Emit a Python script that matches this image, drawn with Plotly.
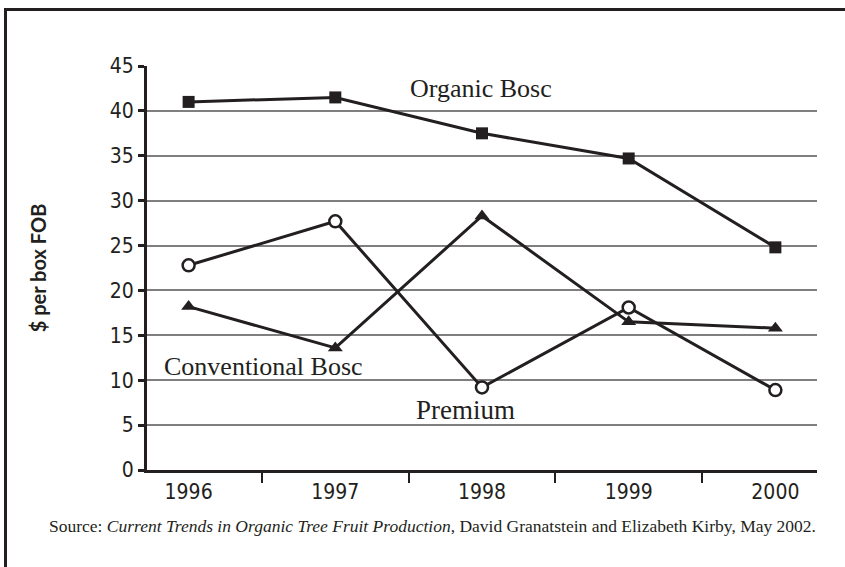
import plotly.graph_objects as go

years = ["1996", "1997", "1998", "1999", "2000"]
organic_bosc = [41.0, 41.5, 37.5, 34.7, 24.8]
conventional_bosc = [18.2, 13.6, 28.3, 16.5, 15.8]
premium = [22.8, 27.7, 9.2, 18.1, 8.9]
y_ticks = [0, 5, 10, 15, 20, 25, 30, 35, 40, 45]

INK = "#231f20"
L, R, T, B = 147, 28, 66, 97
W, H = 845, 567
pw, ph = W - L - R, H - T - B

def px_to_paper_x(x):
    return (x - L) / pw

def px_to_paper_y(y):
    return (H - B - y) / ph

fig = go.Figure()
fig.add_trace(go.Scatter(x=years, y=organic_bosc, mode="lines+markers",
                         line=dict(color=INK, width=3),
                         marker=dict(symbol="square", size=12, color=INK),
                         showlegend=False))
fig.add_trace(go.Scatter(x=years, y=conventional_bosc, mode="lines+markers",
                         line=dict(color=INK, width=3),
                         marker=dict(symbol="triangle-up", size=13, color=INK),
                         showlegend=False))
fig.add_trace(go.Scatter(x=years, y=premium, mode="lines+markers",
                         line=dict(color=INK, width=3),
                         marker=dict(symbol="circle", size=12, color="white",
                                     line=dict(color=INK, width=2.5)),
                         showlegend=False))

serif = "Liberation Serif"
def label(text, x, y, size):
    fig.add_annotation(x=px_to_paper_x(x), y=px_to_paper_y(y), xref="paper", yref="paper",
                       xanchor="center", yanchor="middle",
                       text=text, showarrow=False,
                       font=dict(family=serif, size=size, color=INK))

label("Organic Bosc", 481, 88, 26)
label("Conventional Bosc", 263, 366, 26)
label("Premium", 465, 410, 27)
label("Source: <i>Current Trends in Organic Tree Fruit Production</i>, David Granatstein and Elizabeth Kirby, May 2002.",
      432, 526, 17.5)

# outer frame
fig.add_shape(type="rect", xref="paper", yref="paper",
              x0=px_to_paper_x(5.5), x1=px_to_paper_x(900),
              y0=px_to_paper_y(700), y1=px_to_paper_y(9.5),
              line=dict(color=INK, width=3), fillcolor="rgba(0,0,0,0)", layer="above")

tick_font = dict(size=21, family="Liberation Sans Narrow, DejaVu Sans Condensed, Lato", color=INK)

fig.update_layout(
    width=W, height=H,
    margin=dict(l=L, r=R, t=T, b=B),
    paper_bgcolor="white", plot_bgcolor="white",
    font=dict(family="Lato", color=INK),
    xaxis=dict(type="category", tickson="boundaries", ticks="outside",
               ticklen=10, tickwidth=2, tickcolor=INK,
               showline=True, linewidth=3, linecolor=INK,
               showgrid=False, ticklabelstandoff=1,
               tickfont=tick_font),
    yaxis=dict(range=[0, 45], tickvals=y_ticks, ticks="outside",
               ticklen=6, tickwidth=3, tickcolor=INK,
               showline=True, linewidth=3, linecolor=INK,
               showgrid=True, gridcolor="#7f7f7f", gridwidth=1.5,
               zeroline=False, tickfont=tick_font,
               title=dict(text="<b>$ per box FOB</b>", standoff=58,
                          font=dict(size=20, family="Lato", color=INK))),
)

fig.write_html("out.html", config={"displayModeBar": False},
               post_script="document.body.style.margin='0';document.body.style.padding='0';")
